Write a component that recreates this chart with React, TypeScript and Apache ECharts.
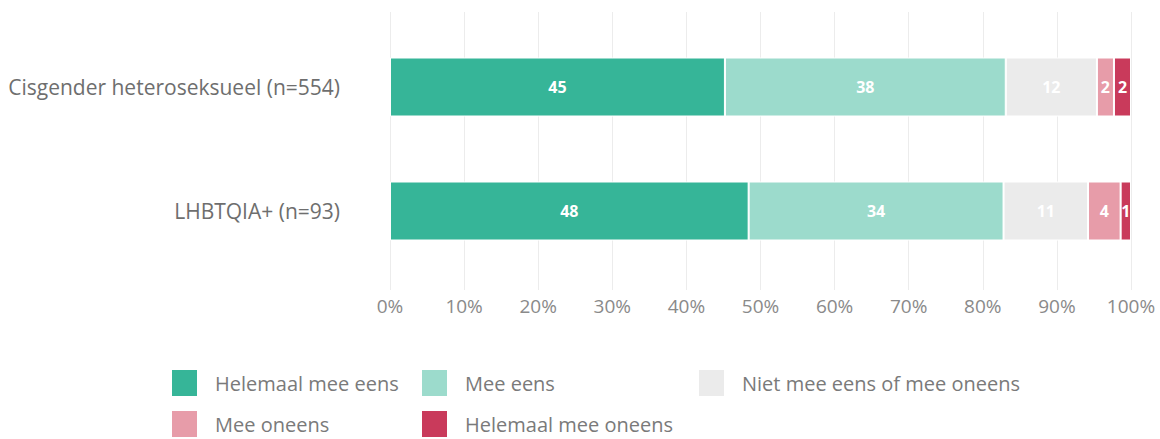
import React, { useEffect, useRef } from "react";
import * as echarts from "echarts";

const categories = ["Cisgender heteroseksueel (n=554)", "LHBTQIA+ (n=93)"];
const seriesNames = [
  "Helemaal mee eens",
  "Mee eens",
  "Niet mee eens of mee oneens",
  "Mee oneens",
  "Helemaal mee oneens",
];
const helemaalMeeEens = [45.2, 48.4];
const meeEens = [37.9, 34.4];
const neutraal = [12.3, 11.4];
const meeOneens = [2.3, 4.4];
const helemaalMeeOneens = [2.3, 1.4];
const xTicks = [0, 10, 20, 30, 40, 50, 60, 70, 80, 90, 100];

const colors = ["#36b598", "#9cdbcc", "#ebebeb", "#e79ca9", "#c93a5b"];
const FONT = "Open Sans";

export default function App() {
  const ref = useRef<HTMLDivElement>(null);
  useEffect(() => {
    document.body.style.margin = "0";
    const chart = echarts.init(ref.current!, null, { renderer: "svg" });
    const values = [helemaalMeeEens, meeEens, neutraal, meeOneens, helemaalMeeOneens];
    const legendPos = [
      { left: 172, top: 370 },
      { left: 422, top: 370 },
      { left: 699, top: 370 },
      { left: 172, top: 411 },
      { left: 422, top: 411 },
    ];
    chart.setOption({
      animation: false,
      textStyle: { fontFamily: FONT },
      grid: [
        { left: 390, right: 29, top: 25, height: 248 },
        { left: 390, right: 29, top: 12, height: 278 },
      ],
      xAxis: [
        { gridIndex: 0, type: "value", min: 0, max: 100, show: false },
        {
          gridIndex: 1,
          type: "value",
          min: 0,
          max: 100,
          interval: 10,
          axisLine: { show: false },
          axisTick: { show: false },
          axisLabel: {
            formatter: (v: number) => (xTicks.includes(v) ? v + "%" : ""),
            margin: 6,
            color: "#8a8a8a",
            fontSize: 19,
            fontFamily: FONT,
          },
          splitLine: { show: true, lineStyle: { color: "#ececec", width: 1 } },
        },
      ],
      yAxis: [
        {
          gridIndex: 0,
          type: "category",
          data: categories,
          inverse: true,
          axisLine: { show: false },
          axisTick: { show: false },
          axisLabel: { margin: 50, color: "#6e6e6e", fontSize: 21, fontFamily: FONT },
        },
        { gridIndex: 1, type: "value", show: false },
      ],
      legend: legendPos.map((p, i) => ({
        data: [seriesNames[i]],
        left: p.left,
        top: p.top,
        padding: 0,
        icon: "rect",
        itemWidth: 25,
        itemHeight: 26,
        selectedMode: false,
        itemStyle: { borderWidth: 0 },
        textStyle: { fontSize: 20, color: "#7a7a7a", fontFamily: FONT, padding: [0, 0, 0, 13] },
      })),
      series: seriesNames.map((name, i) => ({
        name,
        type: "bar",
        stack: "total",
        xAxisIndex: 0,
        yAxisIndex: 0,
        barWidth: 59,
        data: values[i],
        itemStyle: { color: colors[i], borderColor: "#ffffff", borderWidth: 1 },
        label: {
          show: true,
          position: "inside",
          color: "#ffffff",
          fontSize: 16,
          fontWeight: "bold",
          fontFamily: FONT,
          formatter: (p: any) => String(Math.round(p.value)),
        },
      })),
    });
    return () => chart.dispose();
  }, []);
  return <div ref={ref} style={{ width: 1160, height: 439 }} />;
}
